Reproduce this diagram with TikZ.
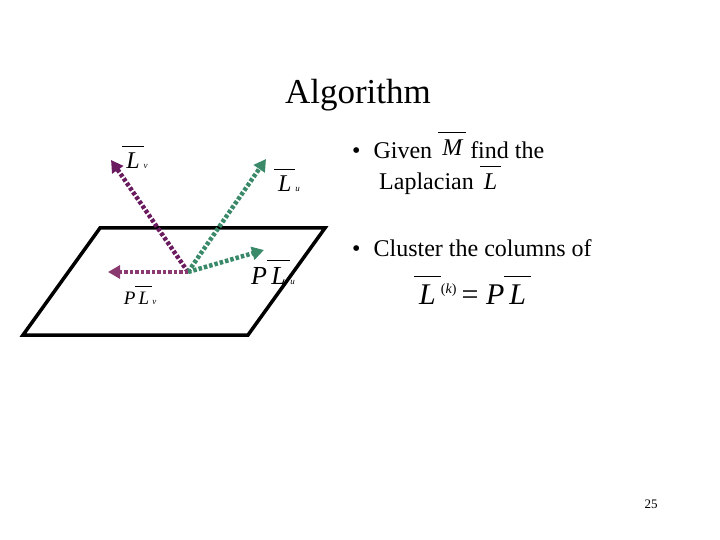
\documentclass[tikz,border=0pt]{standalone}
\usepackage{fontspec}
\setmainfont{Liberation Serif}
\usetikzlibrary{arrows.meta}
\definecolor{pv}{HTML}{6A1A5E}
\definecolor{pv2}{HTML}{8A3A70}
\definecolor{gu}{HTML}{3A8A6A}
\newcommand{\ovl}[1]{\ensuremath{\overline{\mbox{\itshape\,#1\,}\rule{0pt}{0.9em}}}}
\newcommand{\sm}[1]{{\fontsize{9}{10}\selectfont\itshape #1}}
\begin{document}
\begin{tikzpicture}[x=1pt,y=-1pt,
  vec/.style={line width=4.5pt,dash pattern=on 3.5pt off 2pt,-{Triangle[length=12pt,width=13pt]}},
  txt/.style={inner sep=0pt,anchor=west,font=\fontsize{24}{27}\selectfont}]
\useasboundingbox (0,0) rectangle (720,540);
\draw[line width=3.5pt] (100,228) -- (325,228) -- (248,335) -- (23,335) -- cycle;
\coordinate (o) at (188,272);
\coordinate (lv) at (111,160);
\coordinate (lu) at (266,159);
\coordinate (plu) at (264,250);
\coordinate (plv) at (108,272);
\draw[vec,pv] (o) -- (lv);
\draw[vec,gu] (o) -- (lu);
\draw[vec,gu] (o) -- (plu);
\draw[vec,pv2] (o) -- (plv);
\node[inner sep=0pt,font=\fontsize{24}{26}\selectfont] (tlv) at (135,157) {\ovl{L}\sm{v}};
\node[inner sep=0pt,font=\fontsize{24}{26}\selectfont] (tlu) at (287,180) {\ovl{L}\sm{u}};
\node[inner sep=0pt,font=\fontsize{26}{28}\selectfont] (tplu) at (273,272) {\textit{P}\ovl{L}\sm{u}};
\node[inner sep=0pt,font=\fontsize{19}{21}\selectfont] (tplv) at (140,295) {\textit{P}\ovl{L}\sm{v}};
\node[inner sep=0pt,font=\fontsize{35}{40}\selectfont] (title) at (358,95) {Algorithm};
\node[txt] (b1) at (352,145) {•\hspace{13pt}Given \raisebox{3pt}{\ovl{M}}\hspace{4pt}find the};
\node[txt] (b1b) at (379,180) {Laplacian \ovl{L}};
\node[txt] (b2) at (352,248) {•\hspace{13pt}Cluster the columns of};
\node[txt,font=\fontsize{30}{32}\selectfont] (eq) at (414,290) {\ovl{L}\raisebox{11pt}{\fontsize{14}{15}\selectfont(\textit{k})}\,= \textit{P}\ovl{L}};
\node[inner sep=0pt,font=\fontsize{13}{15}\selectfont] (pg) at (651,504) {25};
\end{tikzpicture}
\end{document}
